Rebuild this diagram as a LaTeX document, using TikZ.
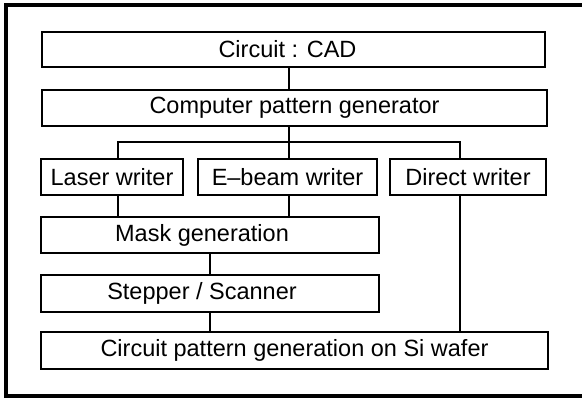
\documentclass[tikz,border=0pt]{standalone}
\usepackage{fontspec}
\setmainfont{Liberation Sans}
\begin{document}
\begin{tikzpicture}[x=1pt,y=-1pt,
  box/.style={draw,line width=2.2pt,inner sep=0pt,font=\fontsize{23.5}{25}\selectfont},
  con/.style={line width=1.5pt},
  frame/.style={line width=3.2pt}]
\useasboundingbox (0,0) rectangle (582,401);
\draw[frame] (582,5) -- (6,5) -- (6,396) -- (582,396);
\node[box,minimum width=503pt,minimum height=35pt] (cad) at (293.5,49.5) {\hspace*{-12pt}Circuit : CAD};
\node[box,minimum width=505pt,minimum height=36pt] (cpg) at (294.5,108) {Computer pattern generator};
\node[box,minimum width=142pt,minimum height=36pt] (laser) at (112,177) {Laser writer};
\node[box,minimum width=179pt,minimum height=36pt] (ebeam) at (287.5,177) {E{\textendash}beam writer};
\node[box,minimum width=156pt,minimum height=36pt] (direct) at (468,177) {Direct writer};
\node[box,minimum width=338pt,minimum height=36pt] (mask) at (210,235) {\hspace*{-16pt}Mask generation};
\node[box,minimum width=338pt,minimum height=37pt] (stepper) at (210,293.5) {\hspace*{-16pt}Stepper / Scanner};
\node[box,minimum width=507pt,minimum height=37pt] (cpsi) at (294.5,350.5) {Circuit pattern generation on Si wafer};
\coordinate (j) at (289,142);
\coordinate (jl) at (118,142);
\coordinate (jr) at (460,142);
\draw[con] (cad.south -| j) -- (cpg.north -| j);
\draw[con] (cpg.south -| j) -- (j);
\draw[con] (laser.north -| jl) -- (jl) -- (jr) -- (direct.north -| jr);
\draw[con] (j) -- (ebeam.north -| j);
\draw[con] (laser.south -| jl) -- (mask.north -| jl);
\draw[con] (ebeam.south -| j) -- (mask.north -| j);
\draw[con] (mask.south) -- (stepper.north);
\draw[con] (stepper.south) -- (stepper.south |- cpsi.north);
\draw[con] (direct.south -| jr) -- (cpsi.north -| jr);
\end{tikzpicture}
\end{document}
